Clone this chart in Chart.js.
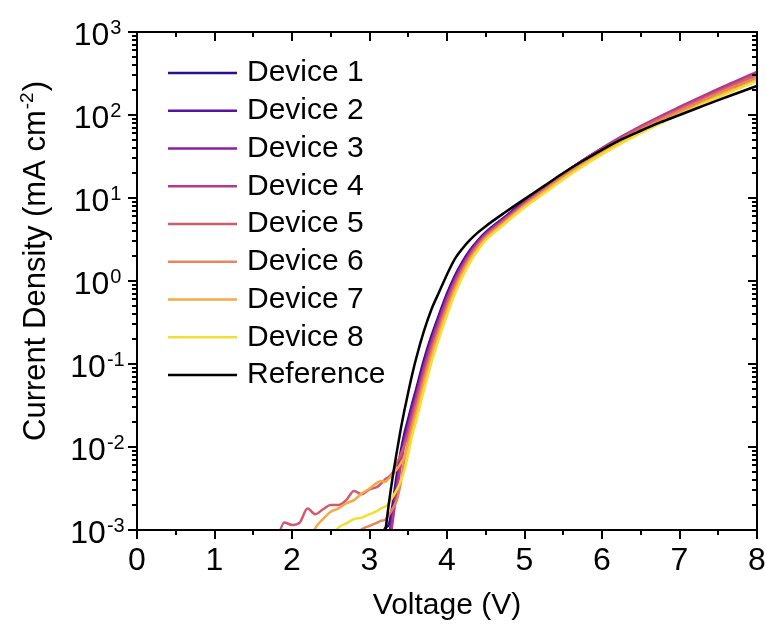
<!DOCTYPE html>
<html>
<head>
<meta charset="utf-8">
<script src="https://cdn.jsdelivr.net/npm/chart.js@4.4.1/dist/chart.umd.min.js"></script>
<style>
  html, body { margin: 0; padding: 0; background: #fff; }
  #wrap { width: 766px; height: 626px; }
</style>
</head>
<body>
<div id="wrap"><canvas id="jvChart" width="766" height="626"></canvas></div>
<script>
// J-V curves (voltage in V, current density in mA cm^-2)
const voltage = [1.8, 1.9, 2.0, 2.1, 2.2, 2.3, 2.4, 2.5, 2.6, 2.7, 2.8, 2.9, 3.0, 3.1,
    3.15, 3.2, 3.25, 3.3, 3.35, 3.4, 3.45, 3.5, 3.55, 3.6,
    3.7, 3.8, 3.9, 4.0, 4.1, 4.2, 4.3, 4.4, 4.5,
    4.75, 5.0, 5.25, 5.5, 5.75, 6.0, 6.25, 6.5, 6.75, 7.0, 7.25, 7.5, 7.75, 8.0];

const device1 = [null, null, null, null, null, null, null, null, null, null, null, null, null, null,
    7.9e-4, 1.05e-3, 1.17e-3, 2.09e-3, 4.47e-3, 8.51e-3, 0.0145, 0.0219, 0.0331, 0.049,
    0.110, 0.219, 0.398, 0.708, 1.15, 1.71, 2.38, 3.10, 3.87,
    5.96, 9.20, 13.5, 19.6, 28.1, 38.7, 52.1, 68.7, 88.5, 112, 142, 178, 221, 275];
const device2 = [null, null, null, null, null, null, null, null, null, null, null, null, null, null,
    null, 2.5e-4, 7.6e-4, 1.78e-3, 3.8e-3, 7.59e-3, 0.0129, 0.020, 0.0309, 0.0447,
    0.100, 0.204, 0.380, 0.661, 1.10, 1.65, 2.31, 3.03, 3.79,
    5.86, 9.06, 13.3, 19.6, 28.2, 39.2, 53.1, 70.5, 91.4, 117, 148, 188, 236, 295];
const device3 = [null, null, null, null, null, null, null, null, null, null, null, null, null, null,
    null, 1.8e-4, 6.3e-4, 1.51e-3, 3.31e-3, 6.61e-3, 0.0117, 0.0182, 0.0282, 0.0417,
    0.0933, 0.191, 0.355, 0.631, 1.05, 1.58, 2.24, 2.95, 3.72,
    5.75, 8.91, 13.2, 19.5, 28.2, 39.4, 53.7, 71.6, 93.3, 120, 153, 195, 245, 309];
const device4 = [null, null, null, null, null, null, null, null, null, null, null, null, null, null,
    null, 1.6e-4, 5.2e-4, 1.29e-3, 2.88e-3, 5.75e-3, 0.0107, 0.0166, 0.0257, 0.038,
    0.0871, 0.178, 0.331, 0.603, 1.00, 1.52, 2.17, 2.88, 3.64,
    5.65, 8.77, 13.1, 19.5, 28.3, 39.9, 54.8, 73.6, 96.6, 125, 161, 206, 261, 331];
const device5 = [7.1e-4, 1.23e-3, 1.15e-3, 1.23e-3, 1.82e-3, 1.55e-3, 1.78e-3, 2.0e-3, 2.0e-3, 2.29e-3, 2.95e-3, 2.69e-3, 3.09e-3, 3.31e-3,
    3.63e-3, 4.07e-3, 4.37e-3, 4.9e-3, 6.31e-3, 7.94e-3, 0.0105, 0.0141, 0.0219, 0.0331,
    0.0741, 0.155, 0.295, 0.537, 0.912, 1.41, 2.04, 2.74, 3.49,
    5.46, 8.47, 12.6, 18.7, 27.1, 38.0, 52.1, 69.8, 91.4, 118, 151, 193, 244, 309];
const device6 = [null, null, null, null, null, null, null, null, null, null, 7.9e-4, 1.02e-3, 1.12e-3, 1.23e-3,
    1.29e-3, 1.32e-3, 1.51e-3, 1.82e-3, 2.24e-3, 3.55e-3, 7.08e-3, 0.0117, 0.0186, 0.0279,
    0.0638, 0.136, 0.263, 0.481, 0.832, 1.31, 1.91, 2.60, 3.35,
    5.27, 8.20, 12.2, 18.0, 26.1, 36.4, 49.8, 66.4, 86.7, 112, 143, 182, 229, 288];
const device7 = [null, null, null, null, 6.3e-4, 1.05e-3, 1.35e-3, 1.66e-3, 1.82e-3, 2.09e-3, 2.29e-3, 2.75e-3, 3.16e-3, 3.72e-3,
    3.89e-3, 3.8e-3, 4.17e-3, 4.68e-3, 5.37e-3, 6.31e-3, 7.59e-3, 0.0105, 0.0158, 0.0237,
    0.055, 0.119, 0.233, 0.432, 0.759, 1.21, 1.80, 2.47, 3.21,
    5.09, 7.94, 11.7, 17.3, 24.9, 34.8, 47.4, 63.1, 82.0, 105, 134, 171, 214, 269];
const device8 = [null, null, null, null, null, null, null, 7.9e-4, 1.07e-3, 1.2e-3, 1.35e-3, 1.41e-3, 1.55e-3, 1.7e-3,
    1.82e-3, 1.91e-3, 2.09e-3, 2.51e-3, 3.02e-3, 3.8e-3, 5.25e-3, 8.32e-3, 0.0135, 0.0202,
    0.0471, 0.104, 0.207, 0.387, 0.692, 1.12, 1.69, 2.35, 3.08,
    4.92, 7.67, 11.3, 16.7, 24.0, 33.5, 45.6, 60.5, 78.7, 101, 129, 163, 205, 257];
const reference = [null, null, null, null, null, null, null, null, null, null, null, null, null, null,
    3.5e-4, 8.9e-4, 2.1e-3, 4.4e-3, 8.5e-3, 0.0158, 0.0275, 0.0457, 0.0741, 0.115,
    0.245, 0.457, 0.741, 1.20, 1.84, 2.47, 3.15, 3.85, 4.58,
    6.73, 9.70, 13.9, 20.0, 27.9, 38.0, 50.7, 64.6, 81.3, 100, 123, 151, 184, 224];

const seriesNames = ["Device 1", "Device 2", "Device 3", "Device 4", "Device 5",
    "Device 6", "Device 7", "Device 8", "Reference"];
const seriesValues = [device1, device2, device3, device4, device5, device6, device7, device8, reference];
const seriesColors = ["#2b0f8c", "#5a10a2", "#8d1fa2", "#b5398a", "#d25a6f",
    "#e9855a", "#f4ab45", "#f3df33", "#000000"];

const xTickValues = [0, 1, 2, 3, 4, 5, 6, 7, 8];
const yTickExponents = [-3, -2, -1, 0, 1, 2, 3];

const FONT = '"Liberation Sans", Arial, sans-serif';
Chart.defaults.font.family = FONT;
Chart.defaults.color = "#000";

// "10" with a raised exponent, centred on cx
function drawPower(ctx, exp, cx, cy) {
    ctx.font = "32px " + FONT;
    const wb = ctx.measureText("10").width;
    ctx.font = "20px " + FONT;
    const ws = ctx.measureText(String(exp)).width;
    const x0 = cx - (wb + ws) / 2;
    ctx.textAlign = "left";
    ctx.textBaseline = "alphabetic";
    ctx.font = "32px " + FONT;
    ctx.fillText("10", x0, cy + 12);
    ctx.font = "20px " + FONT;
    ctx.fillText(String(exp), x0 + wb + 1, cy + 1);
}

const axesPlugin = {
    id: "originAxes",
    afterDraw(chart) {
        const { ctx, chartArea: a, scales: { x, y } } = chart;
        ctx.save();
        ctx.strokeStyle = "#000";
        ctx.fillStyle = "#000";
        ctx.lineWidth = 2;
        ctx.strokeRect(a.left, a.top, a.right - a.left, a.bottom - a.top);

        // x ticks: out on bottom, in on top
        ctx.beginPath();
        xTickValues.forEach((v, i) => {
            const px = Math.round(x.getPixelForValue(v));
            ctx.moveTo(px, a.bottom); ctx.lineTo(px, a.bottom + 9);
            ctx.moveTo(px, a.top); ctx.lineTo(px, a.top + 9);
            if (i < xTickValues.length - 1) {
                const pm = Math.round(x.getPixelForValue(v + 0.5));
                ctx.moveTo(pm, a.bottom); ctx.lineTo(pm, a.bottom + 5);
                ctx.moveTo(pm, a.top); ctx.lineTo(pm, a.top + 5);
            }
        });
        // y ticks: out on left, in on right
        yTickExponents.forEach((e, i) => {
            const py = Math.round(y.getPixelForValue(Math.pow(10, e)));
            ctx.moveTo(a.left, py); ctx.lineTo(a.left - 9, py);
            ctx.moveTo(a.right, py); ctx.lineTo(a.right - 9, py);
            if (i < yTickExponents.length - 1) {
                for (let k = 2; k <= 9; k++) {
                    const pm = Math.round(y.getPixelForValue(k * Math.pow(10, e)));
                    ctx.moveTo(a.left, pm); ctx.lineTo(a.left - 5, pm);
                    ctx.moveTo(a.right, pm); ctx.lineTo(a.right - 5, pm);
                }
            }
        });
        ctx.stroke();

        // y tick labels
        yTickExponents.forEach(e => {
            drawPower(ctx, e, 97, y.getPixelForValue(Math.pow(10, e)) + 1);
        });

        // y axis title with superscript
        ctx.save();
        ctx.translate(34, 262);
        ctx.rotate(-Math.PI / 2);
        const t1 = "Current Density (mA cm", t2 = "-2", t3 = ")";
        ctx.font = "31px " + FONT;
        const w1 = ctx.measureText(t1).width, w3 = ctx.measureText(t3).width;
        ctx.font = "19px " + FONT;
        const w2 = ctx.measureText(t2).width;
        const sx = -(w1 + w2 + w3) / 2;
        ctx.textAlign = "left";
        ctx.textBaseline = "alphabetic";
        ctx.font = "31px " + FONT;
        ctx.fillText(t1, sx, 11);
        ctx.font = "19px " + FONT;
        ctx.fillText(t2, sx + w1 + 1, -1);
        ctx.font = "31px " + FONT;
        ctx.fillText(t3, sx + w1 + w2 + 2, 11);
        ctx.restore();

        // legend
        ctx.font = "30px " + FONT;
        ctx.textAlign = "left";
        ctx.textBaseline = "middle";
        seriesNames.forEach((name, i) => {
            const ly = a.top + 41 + i * 37.75;
            ctx.strokeStyle = seriesColors[i];
            ctx.lineWidth = 2.5;
            ctx.beginPath();
            ctx.moveTo(a.left + 31, ly);
            ctx.lineTo(a.left + 100, ly);
            ctx.stroke();
            ctx.fillText(name, a.left + 110, ly);
        });
        ctx.restore();
    }
};

const datasets = seriesNames.map((name, i) => ({
    label: name,
    data: voltage.map((v, j) => ({ x: v, y: seriesValues[i][j] })).filter(p => p.y !== null),
    borderColor: seriesColors[i],
    borderWidth: 2.5,
    pointRadius: 0,
    fill: false,
    cubicInterpolationMode: "monotone",
    order: 10 - i
}));

new Chart(document.getElementById("jvChart"), {
    type: "line",
    data: { datasets },
    options: {
        responsive: false,
        animation: false,
        devicePixelRatio: 1,
        layout: { padding: { top: 32, right: 9, left: 0, bottom: 0 } },
        plugins: { legend: { display: false }, tooltip: { enabled: false } },
        scales: {
            x: {
                type: "linear",
                min: 0,
                max: 8,
                grid: { display: false, drawTicks: false },
                border: { display: false },
                ticks: { stepSize: 1, font: { size: 32 }, color: "#000", padding: 12, maxRotation: 0 },
                title: { display: true, text: "Voltage (V)", font: { size: 30 }, color: "#000", padding: { top: 0, bottom: 2 } },
                afterFit: (scale) => {
                    scale.height = 96;
                    scale.paddingLeft = 0;
                    scale.paddingRight = 0;
                }
            },
            y: {
                type: "logarithmic",
                min: 1e-3,
                max: 1e3,
                grid: { display: false, drawTicks: false },
                border: { display: false },
                ticks: { display: false },
                afterFit: (scale) => {
                    scale.width = 137;
                    scale.paddingTop = 0;
                    scale.paddingBottom = 0;
                }
            }
        }
    },
    plugins: [axesPlugin]
});
</script>
</body>
</html>
